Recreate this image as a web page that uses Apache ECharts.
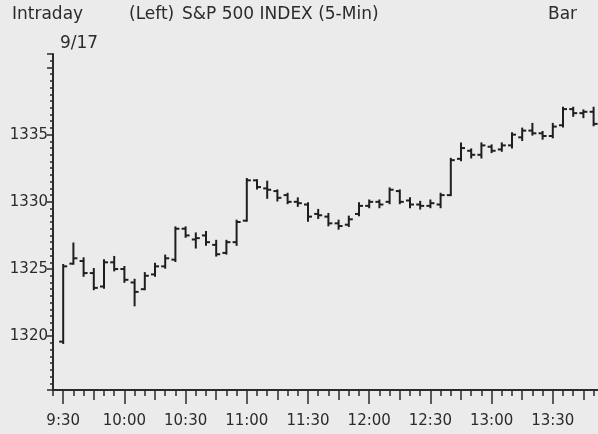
<!DOCTYPE html>
<html>
<head>
<meta charset="utf-8">
<script src="https://cdn.jsdelivr.net/npm/echarts@6/dist/echarts.min.js"></script>
<style>
html,body{margin:0;padding:0;background:#ebebeb;}
#c{width:598px;height:434px;}
</style>
</head>
<body>
<div id="c"></div>
<script>
// Category slots (5-min), first and last slots are empty padding
const times = ['9:25','9:30','9:35','9:40','9:45','9:50','9:55','10:00','10:05','10:10','10:15','10:20','10:25',
 '10:30','10:35','10:40','10:45','10:50','10:55','11:00','11:05','11:10','11:15','11:20','11:25',
 '11:30','11:35','11:40','11:45','11:50','11:55','12:00','12:05','12:10','12:15','12:20','12:25',
 '12:30','12:35','12:40','12:45','12:50','12:55','13:00','13:05','13:10','13:15','13:20','13:25',
 '13:30','13:35','13:40','13:45','13:50','13:55','14:00'];
// Bars from 9:30 to 13:50
const barTimes = times.slice(1, 54);
const xTickLabels = ['9:30','10:00','10:30','11:00','11:30','12:00','12:30','13:00','13:30'];
const opens  = [1319.6,1325.4,1325.6,1324.7,1323.7,1325.5,1325.0,1324.0,1323.5,1324.6,1325.2,1325.7,1328.0,1327.2,1327.5,1326.8,1326.2,1327.0,1328.6,1331.6,1331.0,1330.8,1330.5,1330.0,1329.8,1329.1,1328.9,1328.4,1328.3,1329.1,1329.7,1330.0,1330.0,1330.8,1330.1,1329.8,1329.7,1329.8,1330.5,1333.2,1333.8,1333.5,1334.1,1333.9,1334.2,1334.8,1335.3,1335.1,1334.9,1335.7,1336.9,1336.6,1336.7];
const highs  = [1325.3,1326.9,1325.8,1325.0,1325.65,1325.9,1325.15,1324.2,1324.7,1325.4,1326.0,1328.1,1328.1,1327.65,1327.75,1327.1,1327.1,1328.6,1331.7,1331.6,1331.5,1330.85,1330.6,1330.26,1329.9,1329.4,1329.1,1328.6,1328.9,1329.9,1330.1,1330.1,1331.0,1330.85,1330.26,1330.0,1330.1,1330.6,1333.2,1334.35,1333.9,1334.35,1334.2,1334.35,1335.1,1335.45,1335.8,1335.2,1335.8,1337.0,1337.0,1336.8,1337.0];
const lows   = [1319.5,1325.4,1324.5,1323.5,1323.6,1324.9,1324.05,1322.3,1323.5,1324.5,1325.1,1325.6,1327.4,1326.6,1326.8,1326.0,1326.15,1326.8,1328.6,1331.0,1330.3,1330.1,1329.9,1329.7,1328.6,1328.8,1328.25,1328.0,1328.2,1329.0,1329.6,1329.6,1329.9,1329.9,1329.6,1329.5,1329.6,1329.6,1330.5,1333.1,1333.3,1333.3,1333.7,1333.8,1334.05,1334.6,1335.0,1334.7,1334.8,1335.6,1336.4,1336.3,1335.7];
const closes = [1325.2,1325.8,1324.7,1323.6,1325.5,1325.0,1324.2,1323.3,1324.5,1325.2,1325.8,1328.0,1327.5,1327.3,1327.0,1326.1,1327.0,1328.5,1331.6,1331.1,1330.9,1330.3,1330.0,1329.9,1328.9,1329.0,1328.4,1328.2,1328.7,1329.7,1330.0,1329.8,1330.9,1330.0,1329.8,1329.7,1329.9,1330.5,1333.1,1334.0,1333.5,1334.2,1333.8,1334.2,1335.0,1335.3,1335.1,1334.9,1335.6,1336.9,1336.6,1336.7,1335.8];
const yTickLabels = [1320, 1325, 1330, 1335];

const ohlc = barTimes.map((t, i) => [times.indexOf(t), opens[i], highs[i], lows[i], closes[i]]);

const font = '"DejaVu Sans", sans-serif';
const ink = '#2b2b2b';
const isHalfHour = (v) => { const m = parseInt(v.split(':')[1], 10); return m % 30 === 0; };
const isQuarter = (v) => { const m = parseInt(v.split(':')[1], 10); return m % 15 === 0; };

const grid = { left: 53, top: 54, width: 561, height: 336, outerBoundsMode: 'none', containLabel: false };
function xAx(len, tickFn, showLabel) {
  return {
    type: 'category', data: times, boundaryGap: false, position: 'bottom', gridIndex: 0,
    axisLine: { show: true, lineStyle: { color: ink, width: 2 } },
    axisTick: { show: true, length: len, interval: tickFn ? ((i, v) => tickFn(v)) : 0, lineStyle: { color: ink, width: 1.5 } },
    axisLabel: showLabel ? {
      show: true, interval: (i, v) => xTickLabels.indexOf(v) >= 0, margin: 24,
      fontFamily: font, fontSize: 15, color: ink
    } : { show: false },
    splitLine: { show: false }
  };
}

const chart = echarts.init(document.getElementById('c'));
chart.setOption({
  backgroundColor: '#ebebeb',
  animation: false,
  title: [
    { text: 'Intraday', left: 12, top: 6, padding: 0, textStyle: { fontFamily: font, fontSize: 17, fontWeight: 'normal', color: ink } },
    { text: '9/17', left: 60, top: 35, padding: 0, textStyle: { fontFamily: font, fontSize: 17, fontWeight: 'normal', color: ink } },
    { text: '(Left)', left: 129, top: 6, padding: 0, textStyle: { fontFamily: font, fontSize: 17, fontWeight: 'normal', color: ink } },
    { text: 'S&P 500 INDEX (5-Min)', left: 182, top: 6, padding: 0, textStyle: { fontFamily: font, fontSize: 17, fontWeight: 'normal', color: ink } },
    { text: 'Bar', left: 548, top: 6, padding: 0, textStyle: { fontFamily: font, fontSize: 17, fontWeight: 'normal', color: ink } }
  ],
  grid: grid,
  xAxis: [
    xAx(6, null, false),
    xAx(10, isQuarter, false),
    xAx(14, isHalfHour, true)
  ],
  yAxis: {
    type: 'value', min: 1316, max: 1341, splitNumber: 5, position: 'left',
    axisLine: { show: true, lineStyle: { color: ink, width: 2 } },
    axisTick: { show: true, length: 6, lineStyle: { color: ink, width: 1.5 } },
    minorTick: { show: true, splitNumber: 10, length: 3, lineStyle: { color: ink, width: 1.5 } },
    axisLabel: {
      showMinLabel: false, showMaxLabel: false, margin: 5,
      fontFamily: font, fontSize: 15, color: ink,
      formatter: (v) => yTickLabels.indexOf(v) >= 0 ? String(v) : ''
    },
    splitLine: { show: false }
  },
  series: [{
    type: 'custom',
    xAxisIndex: 0, yAxisIndex: 0,
    encode: { x: 0, y: [1, 2, 3, 4] },
    data: ohlc,
    renderItem: function (params, api) {
      const x = api.value(0);
      const o = api.coord([x, api.value(1)]);
      const h = api.coord([x, api.value(2)]);
      const l = api.coord([x, api.value(3)]);
      const c = api.coord([x, api.value(4)]);
      const st = { stroke: '#1e1e1e', lineWidth: 2 };
      const t = 4;
      return {
        type: 'group',
        children: [
          { type: 'line', shape: { x1: h[0], y1: h[1] - 1, x2: l[0], y2: l[1] + 1 }, style: st },
          { type: 'line', shape: { x1: o[0] - t, y1: o[1], x2: o[0], y2: o[1] }, style: st },
          { type: 'line', shape: { x1: c[0], y1: c[1], x2: c[0] + t, y2: c[1] }, style: st }
        ]
      };
    }
  }]
});
</script>
</body>
</html>
